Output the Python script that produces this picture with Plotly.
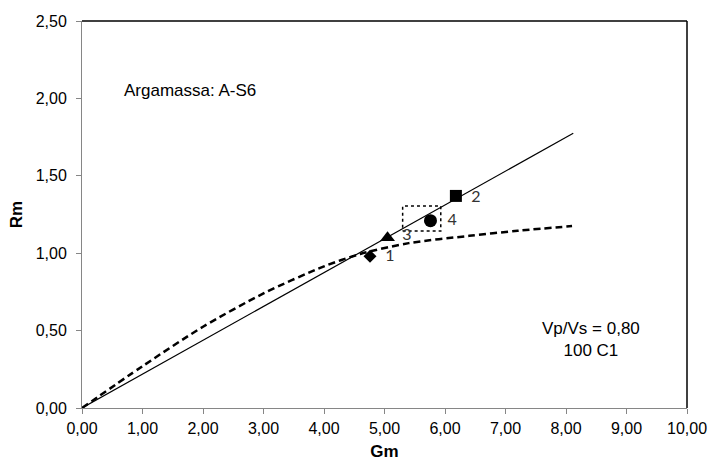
import plotly.graph_objects as go

# Data
line_x = [0.0, 8.12]
line_y = [0.0, 1.775]

curve_x = [0.0, 1.0, 2.0, 3.0, 4.0, 4.6, 5.4, 6.4, 7.2, 8.1]
curve_y = [0.0, 0.27, 0.525, 0.74, 0.915, 0.995, 1.065, 1.112, 1.145, 1.175]

pts_x = [4.76, 6.18, 5.05, 5.76]
pts_y = [0.98, 1.37, 1.10, 1.21]
pts_lbl = ["1", "2", "3", "4"]
pts_sym = ["diamond", "square", "triangle-up", "circle"]
pts_size = [10, 12, 13, 13]
lbl_x = [5.09, 6.51, 5.37, 6.12]
lbl_y = [0.975, 1.357, 1.11, 1.21]

box_x = [5.30, 5.93, 5.93, 5.30, 5.30]
box_y = [1.143, 1.143, 1.305, 1.305, 1.143]

x_ticks = [0, 1, 2, 3, 4, 5, 6, 7, 8, 9, 10]
y_ticks = [0, 0.5, 1.0, 1.5, 2.0, 2.5]

fig = go.Figure()

fig.add_trace(go.Scatter(x=line_x, y=line_y, mode="lines",
                         line=dict(color="black", width=1.2), showlegend=False))
fig.add_trace(go.Scatter(x=curve_x, y=curve_y, mode="lines",
                         line=dict(color="black", width=2.5, dash="7px,4px", shape="spline",
                                   smoothing=0.8),
                         showlegend=False))
fig.add_trace(go.Scatter(x=box_x, y=box_y, mode="lines",
                         line=dict(color="black", width=1.5, dash="dot"), showlegend=False))
for i in range(len(pts_x)):
    fig.add_trace(go.Scatter(x=[pts_x[i]], y=[pts_y[i]], mode="markers",
                             marker=dict(symbol=pts_sym[i], size=pts_size[i], color="black"),
                             showlegend=False))
fig.add_trace(go.Scatter(x=lbl_x, y=lbl_y, mode="text", text=pts_lbl,
                         textfont=dict(family="Lato", size=16, color="#333333"),
                         textposition="middle center", showlegend=False))

axis_common = dict(showgrid=False, zeroline=False, showline=True, linecolor="#868686",
                   linewidth=1, ticks="outside", ticklen=5, tickcolor="#868686",
                   tickformat=".2f", automargin=False,
                   tickfont=dict(family="Liberation Sans", size=16, color="black"))

fig.update_xaxes(range=[0, 10], tickvals=x_ticks, ticklabelstandoff=1, **axis_common,
                 title=dict(text="<b>Gm</b>", font=dict(family="Liberation Sans", size=17, color="black"),
                            standoff=10))
fig.update_yaxes(range=[0, 2.5], tickvals=y_ticks, ticklabelstandoff=6, **axis_common,
                 title=dict(text="<b>Rm</b>", font=dict(family="Liberation Sans", size=17, color="black"),
                            standoff=8))

fig.add_shape(type="line", xref="paper", yref="paper", x0=0, y0=1, x1=1, y1=1,
              line=dict(color="black", width=1.5))
fig.add_shape(type="line", xref="paper", yref="paper", x0=1, y0=0, x1=1, y1=1,
              line=dict(color="black", width=1.5))

fig.add_annotation(x=0.655, y=2.05, xref="x", yref="y", text="Argamassa: A-S6",
                   showarrow=False, xanchor="left", yanchor="middle",
                   font=dict(family="Liberation Sans", size=17, color="black"))
fig.add_annotation(x=8.42, y=0.445, xref="x", yref="y", text="Vp/Vs = 0,80<br>100 C1",
                   showarrow=False, xanchor="center", yanchor="middle", align="center",
                   font=dict(family="Liberation Sans", size=17, color="black"))

fig.update_layout(width=711, height=461, margin=dict(l=82, r=24, t=21, b=53),
                  plot_bgcolor="white", paper_bgcolor="white", separators=",.")

fig.write_html("out.html")
